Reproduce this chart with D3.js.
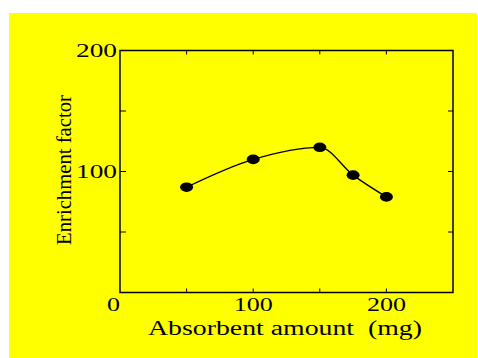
<!DOCTYPE html>
<html>
<head>
<meta charset="utf-8">
<script src="https://cdn.jsdelivr.net/npm/d3@7"></script>
<style>
  body { margin: 0; background: white; }
  text { font-family: 'Liberation Serif', 'Times New Roman', serif; fill: black; white-space: pre; }
</style>
</head>
<body>
<div id="chart"></div>
<script>
// data
let amounts = [50, 100, 150, 175, 200]
let enrichment = [87, 110, 120, 97, 79]
let xTicks = [0, 50, 100, 150, 200, 250]
let xLabels = [0, 100, 200]
let yTicks = [0, 50, 100, 150, 200]
let yLabels = [100, 200]

let width = 478
let height = 358
let plotLeft = 120, plotRight = 453, plotTop = 50.5, plotBottom = 292.5

let svg = d3.select('#chart').append('svg')
    .attr('width', width)
    .attr('height', height)

svg.append('rect')
    .attr('x', 9)
    .attr('y', 13)
    .attr('width', 468)
    .attr('height', 345)
    .attr('fill', '#ffff00')

let x = d3.scaleLinear().domain([0, 250]).range([plotLeft, plotRight])
let y = d3.scaleLinear().domain([0, 200]).range([plotBottom, plotTop])

// frame
svg.append('rect')
    .attr('x', plotLeft)
    .attr('y', plotTop)
    .attr('width', plotRight - plotLeft)
    .attr('height', plotBottom - plotTop)
    .attr('fill', 'none')
    .attr('stroke', 'black')
    .attr('stroke-width', 1.5)

// inward ticks on all four sides
let xInner = xTicks.filter(d => d > 0 && d < 250)
let yInner = yTicks.filter(d => d > 0 && d < 200)

svg.append('g').selectAll('line').data(xInner).join('line')
    .attr('x1', d => x(d)).attr('x2', d => x(d))
    .attr('y1', plotBottom).attr('y2', plotBottom - 4)
    .attr('stroke', 'black').attr('stroke-width', 1)
svg.append('g').selectAll('line').data(xInner).join('line')
    .attr('x1', d => x(d)).attr('x2', d => x(d))
    .attr('y1', plotTop).attr('y2', plotTop + 4)
    .attr('stroke', 'black').attr('stroke-width', 1)
svg.append('g').selectAll('line').data(yInner).join('line')
    .attr('x1', plotLeft).attr('x2', plotLeft + 6)
    .attr('y1', d => y(d)).attr('y2', d => y(d))
    .attr('stroke', 'black').attr('stroke-width', 1)
svg.append('g').selectAll('line').data(yInner).join('line')
    .attr('x1', plotRight).attr('x2', plotRight - 5)
    .attr('y1', d => y(d)).attr('y2', d => y(d))
    .attr('stroke', 'black').attr('stroke-width', 1)

// tick labels (stretched wide like the original)
svg.append('g').selectAll('text').data(xLabels).join('text')
    .attr('x', d => x(d) + (d === 0 ? -6.5 : 0))
    .attr('y', plotBottom + 18)
    .attr('text-anchor', 'middle')
    .attr('font-size', 18.5)
    .attr('textLength', d => String(d).length * 13)
    .attr('lengthAdjust', 'spacingAndGlyphs')
    .text(d => d)

svg.append('g').selectAll('text').data(yLabels).join('text')
    .attr('x', plotLeft - 3)
    .attr('y', d => y(d) + 6)
    .attr('text-anchor', 'end')
    .attr('font-size', 18.5)
    .attr('textLength', 41)
    .attr('lengthAdjust', 'spacingAndGlyphs')
    .text(d => d)

// axis titles
svg.append('text')
    .attr('x', 148)
    .attr('y', 335)
    .attr('font-size', 20)
    .attr('textLength', 274)
    .attr('lengthAdjust', 'spacingAndGlyphs')
    .text('Absorbent amount  (mg)')

svg.append('text')
    .attr('transform', 'translate(71,170) rotate(-90)')
    .attr('text-anchor', 'middle')
    .attr('font-size', 22)
    .attr('textLength', 150)
    .attr('lengthAdjust', 'spacingAndGlyphs')
    .text('Enrichment factor')

// curve and markers
let points = amounts.map((a, i) => [a, enrichment[i]])
let line = d3.line()
    .x(d => x(d[0]))
    .y(d => y(d[1]))
    .curve(d3.curveMonotoneX)

svg.append('path')
    .attr('d', line(points))
    .attr('fill', 'none')
    .attr('stroke', 'black')
    .attr('stroke-width', 1.3)

svg.append('g').selectAll('ellipse').data(points).join('ellipse')
    .attr('cx', d => x(d[0]))
    .attr('cy', d => y(d[1]))
    .attr('rx', 6.5)
    .attr('ry', 4.8)
    .attr('fill', 'black')
</script>
</body>
</html>
